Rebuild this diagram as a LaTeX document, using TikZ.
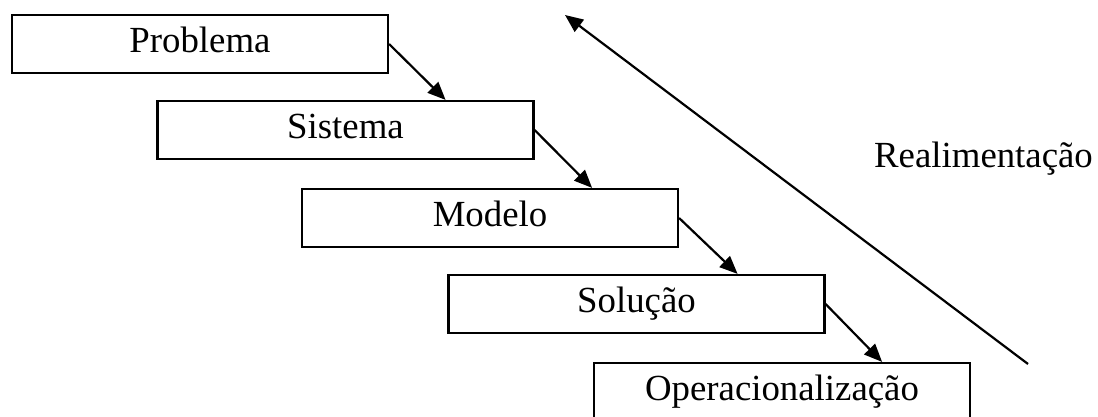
\documentclass[tikz,border=0pt]{standalone}
\usepackage{fontspec}
\setmainfont{Liberation Serif}
\usetikzlibrary{arrows.meta,calc}
\begin{document}
\begin{tikzpicture}[x=1pt,y=-1pt,
  stagebox/.style={draw,line width=2.2pt,rectangle,inner sep=0pt,
    minimum width=376pt,minimum height=58pt,text height=26pt,text depth=10pt,
    font=\fontsize{36.8}{44}\selectfont},
  arr/.style={line width=2.2pt,-{Triangle[length=18pt,width=15pt]}},
  lbl/.style={font=\fontsize{36.8}{44}\selectfont,inner sep=0pt}]
\useasboundingbox (0,0) rectangle (1098,416);
\clip (0,0) rectangle (1098,416);
\fill[white] (0,0) rectangle (1098,416);
\node[stagebox] (p) at (200,44) {Problema};
\node[stagebox] (s) at (345.5,130) {Sistema};
\node[stagebox] (m) at (490,218) {Modelo};
\node[stagebox] (so) at (636.5,304) {Solução};
\node[stagebox] (o) at (782,392) {Operacionalização};
\draw[arr] (p.east) -- ($(s.north east)+(-89pt,0)$);
\draw[arr] (s.east) -- ($(m.north east)+(-87pt,0)$);
\draw[arr] (m.east) -- ($(so.north east)+(-88pt,0)$);
\draw[arr] (so.east) -- ($(o.north east)+(-89pt,0)$);
\coordinate (fbs) at (1028,364);
\coordinate (fbe) at (565,15);
\draw[arr] (fbs) -- (fbe);
\node[lbl,anchor=base] (r) at (983.5,167) {Realimentação};
\end{tikzpicture}
\end{document}
